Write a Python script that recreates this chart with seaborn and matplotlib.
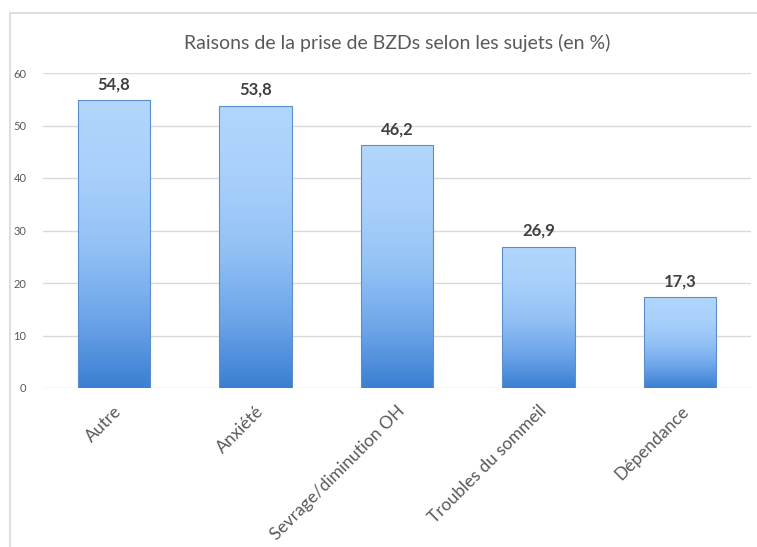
import numpy as np
import pandas as pd
import matplotlib
matplotlib.use("Agg")
import matplotlib.pyplot as plt
import matplotlib.transforms as mtransforms
from matplotlib.colors import LinearSegmentedColormap
from matplotlib.patches import Rectangle
import seaborn as sns

categories = ["Autre", "Anxiété", "Sevrage/diminution OH", "Troubles du sommeil", "Dépendance"]
values = [54.8, 53.8, 46.2, 26.9, 17.3]
value_labels = ["54,8", "53,8", "46,2", "26,9", "17,3"]
yticks = [0, 10, 20, 30, 40, 50, 60]

sns.set_style("white")
plt.rcParams['font.family'] = ['Lato', 'DejaVu Sans']

W, H = 757, 547
fig = plt.figure(figsize=(W / 100, H / 100), dpi=100)
ax = fig.add_axes([43 / W, 1 - 388 / H, (751 - 43) / W, (388 - 73) / H])

df = pd.DataFrame({"cat": categories, "val": values})
sns.barplot(data=df, x="cat", y="val", ax=ax, width=0.51, color="#8ab9f0", zorder=3)

ax.set_ylim(0, 60)
ax.set_xlim(-0.5, len(categories) - 0.5)
ax.set_yticks(yticks)
ax.set_yticklabels([str(t) for t in yticks], fontsize=8, color="#595959")
ax.yaxis.grid(True, color="#d9d9d9", linewidth=1, zorder=0)
ax.set_axisbelow(True)
for s in ax.spines.values():
    s.set_visible(False)
ax.tick_params(axis="both", length=0)
ax.tick_params(axis="y", pad=12)
ax.set_xlabel("")
ax.set_ylabel("")
ax.set_xticks(range(len(categories)))
ax.set_xticklabels(categories, rotation=45, ha="right", rotation_mode="anchor",
                   fontsize=12.5, color="#595959")
offset = mtransforms.ScaledTranslation(0 / 100, -10 / 100, fig.dpi_scale_trans)
for lbl in ax.get_xticklabels():
    lbl.set_transform(lbl.get_transform() + offset)

cmap = LinearSegmentedColormap.from_list("g", ["#3a7fd2", "#6fa6ea", "#94c2f5", "#a9d0fb", "#b2d6fc"])
grad = np.linspace(0, 1, 256).reshape(-1, 1)
for p, lab in zip(ax.patches, value_labels):
    x0, y0 = p.get_x(), p.get_y()
    w, h = p.get_width(), p.get_height()
    p.set_facecolor("none")
    p.set_edgecolor("#5b8fcc")
    p.set_linewidth(0.8)
    im = ax.imshow(grad, cmap=cmap, origin="lower", aspect="auto",
                   extent=[x0, x0 + w, y0, y0 + h], zorder=2.5)
    im.set_clip_path(p)
    ax.text(x0 + w / 2, h + 1.5, lab, ha="center", va="bottom",
            fontsize=12, fontweight="bold", color="#404040", zorder=4)

fig.text((43 + 751) / 2 / W, 1 - 43 / H, "Raisons de la prise de BZDs selon les sujets (en %)",
         ha="center", va="center", fontsize=14, color="#595959")

fig.patches.append(Rectangle((10 / W, -0.1), 1.2, 1 - 13 / H + 0.1, transform=fig.transFigure,
                             fill=False, edgecolor="#d9d9d9", linewidth=1.2))

fig.savefig("out.png", dpi=100, facecolor="white")
